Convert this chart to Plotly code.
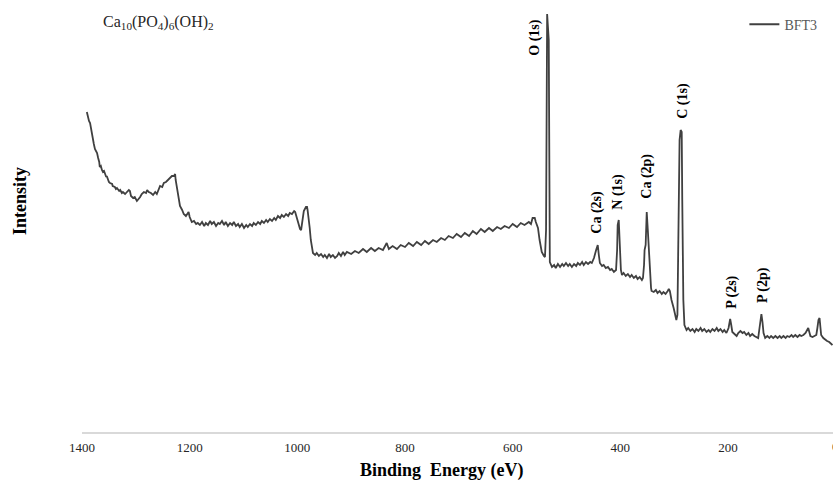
import plotly.graph_objects as go

# Binding energy (eV) and intensity (a.u.)
energy_ev = [
    1391, 1389, 1387, 1385, 1383, 1381, 1380, 1378, 1376, 1374, 1372, 1370, 1368, 1367, 1365, 1363, 1361, 1359,
    1357, 1355, 1354, 1352, 1350, 1348, 1344, 1343, 1339, 1337, 1335, 1331, 1329, 1326, 1324, 1320, 1316, 1313,
    1311, 1309, 1305, 1302, 1298, 1296, 1292, 1289, 1285, 1281, 1279, 1276, 1272, 1268, 1264, 1261, 1257, 1255,
    1251, 1248, 1244, 1240, 1237, 1233, 1229, 1227, 1226, 1224, 1222, 1220, 1218, 1214, 1211, 1207, 1203, 1202,
    1200, 1196, 1192, 1188, 1185, 1181, 1177, 1173, 1170, 1166, 1162, 1159, 1155, 1151, 1147, 1144, 1140, 1136,
    1133, 1129, 1125, 1121, 1118, 1114, 1110, 1107, 1103, 1099, 1095, 1092, 1088, 1084, 1081, 1077, 1073, 1069,
    1066, 1062, 1058, 1055, 1051, 1047, 1043, 1040, 1036, 1032, 1029, 1025, 1021, 1017, 1014, 1010, 1006, 1004,
    1003, 1001, 999, 995, 993, 992, 990, 988, 984, 982, 981, 979, 977, 975, 973, 971, 967, 964, 960, 956, 952,
    949, 945, 941, 938, 934, 930, 926, 923, 919, 915, 912, 908, 900, 893, 886, 878, 871, 863, 856, 849, 841, 834,
    830, 823, 815, 808, 800, 793, 785, 778, 770, 763, 756, 748, 741, 733, 726, 719, 711, 704, 696, 689, 681, 674,
    667, 659, 652, 644, 637, 629, 622, 615, 607, 600, 592, 585, 578, 570, 566, 563, 559, 557, 553, 550, 546, 542,
    540, 538, 537, 536, 533, 531, 527, 523, 520, 516, 512, 508, 505, 501, 497, 494, 490, 486, 482, 479, 475, 471,
    468, 464, 460, 456, 453, 449, 445, 442, 440, 438, 434, 431, 427, 423, 419, 416, 412, 408, 406, 405, 403, 401,
    399, 397, 394, 390, 386, 382, 379, 375, 371, 368, 364, 360, 358, 356, 355, 353, 351, 349, 347, 345, 343, 342,
    338, 334, 331, 327, 323, 320, 316, 312, 310, 308, 307, 305, 301, 297, 296, 294, 292, 290, 288, 286, 285, 283,
    281, 277, 274, 270, 266, 262, 259, 255, 251, 248, 244, 240, 236, 233, 229, 225, 221, 218, 214, 210, 207, 203,
    199, 197, 196, 194, 192, 188, 184, 181, 177, 173, 170, 166, 162, 159, 155, 151, 147, 144, 142, 140, 138, 136,
    134, 131, 127, 123, 120, 116, 112, 108, 104, 101, 97, 93, 90, 86, 82, 79, 75, 71, 67, 64, 60, 56, 53, 51, 49,
    47, 43, 40, 36, 34, 32, 30, 29, 27, 23, 19, 16, 12, 8, 6,
]
intensity = [
    320, 315, 311, 309, 302, 296, 292, 288, 283, 281, 279, 274, 270, 265, 266, 262, 260, 261,
    257, 255, 256, 252, 250, 249, 248, 246, 245, 243, 244, 241, 242, 239, 240, 238, 240, 242,
    241, 236, 234, 235, 231, 232, 235, 238, 240, 239, 242, 240, 239, 237, 240, 238, 243, 246,
    245, 249, 250, 252, 254, 256, 256, 258, 252, 246, 240, 232, 226, 222, 218, 216, 219, 220,
    215, 210, 211, 208, 209, 207, 210, 206, 209, 207, 211, 208, 210, 206, 209, 208, 211, 207,
    210, 206, 209, 207, 210, 206, 208, 205, 208, 204, 207, 205, 208, 206, 209, 207, 210, 208,
    211, 209, 212, 210, 213, 211, 214, 212, 216, 214, 217, 215, 218, 216, 219, 218, 221, 220,
    218, 214, 210, 203, 202, 206, 214, 221, 225, 225, 222, 215, 204, 192, 183, 179, 177, 179, 176, 178, 175,
    177, 174, 178, 175, 177, 174, 176, 179, 176, 180, 177, 180, 178, 181, 179, 183, 180, 184, 181, 184, 182, 189,
    183, 186, 183, 187, 185, 189, 186, 190, 187, 191, 188, 192, 190, 194, 192, 196, 194, 198, 195, 199, 196, 201,
    198, 203, 200, 204, 201, 205, 203, 206, 204, 208, 205, 209, 207, 210, 208, 214, 214, 210, 204, 192, 180, 176,
    175, 202, 392, 418, 392, 170, 165, 167, 164, 168, 165, 168, 166, 169, 166, 168, 165, 168, 166, 169, 167, 170,
    167, 170, 168, 170, 169, 174, 182, 187, 177, 169, 166, 167, 164, 165, 162, 163, 160, 162, 182, 207, 212, 192,
    162, 157, 159, 156, 158, 155, 157, 154, 156, 153, 155, 152, 154, 167, 182, 187, 220, 202, 177, 157, 144, 141,
    140, 142, 139, 141, 138, 140, 138, 141, 143, 141, 137, 132, 124, 116, 112, 117, 232, 292, 302, 300, 232, 132,
    107, 102, 104, 101, 103, 100, 103, 101, 104, 101, 103, 100, 102, 100, 103, 101, 104, 101, 103, 100, 102, 99,
    104, 110, 113, 107, 100, 98, 96, 99, 101, 99, 100, 97, 99, 96, 98, 96, 95, 94, 102, 114, 118, 110,
    99, 94, 96, 94, 96, 94, 96, 94, 96, 94, 96, 94, 96, 95, 97, 95, 97, 95, 97, 96, 97, 99, 102, 104, 100,
    96, 95, 96, 97, 104, 112, 114, 107, 97, 94, 92, 91, 90, 88, 87,
]

series_name = "BFT3"
x_tick_values = [1400, 1200, 1000, 800, 600, 400, 200]
x_tick_labels = ["1400", "1200", "1000", "800", "600", "400", "200"]

peak_names = ["O (1s)", "Ca (2s)", "N (1s)", "Ca (2p)", "C (1s)", "P (2s)", "P (2p)"]
peak_ev = [559, 444, 405, 351, 284, 193, 135]
peak_label_y = [395, 220, 240, 256, 331, 140, 147]

SERIF = "Liberation Serif, Times New Roman, serif"

fig = go.Figure()
fig.add_trace(go.Scatter(
    x=energy_ev, y=intensity, mode="lines", name=series_name,
    line=dict(color="#404040", width=1.8),
))

annotations = []
for name, ev, yy in zip(peak_names, peak_ev, peak_label_y):
    annotations.append(dict(
        x=ev, y=yy, xref="x", yref="y", text="<b>" + name + "</b>", showarrow=False,
        textangle=-90, xanchor="center", yanchor="middle",
        font=dict(family=SERIF, size=14, color="#000000"),
    ))

annotations.append(dict(
    x=0.1025, y=0.976, xref="paper", yref="paper", showarrow=False,
    xanchor="center", yanchor="middle",
    text="Ca<sub>10</sub>(PO<sub>4</sub>)<sub>6</sub>(OH)<sub>2</sub>",
    font=dict(family=SERIF, size=16, color="#262626"),
))
annotations.append(dict(
    x=-0.0825, y=0.55, xref="paper", yref="paper", showarrow=False,
    xanchor="center", yanchor="middle",
    text="<b>Intensity</b>", textangle=-90,
    font=dict(family=SERIF, size=18, color="#000000"),
))
annotations.append(dict(
    x=1.0027, y=-0.0357, xref="paper", yref="paper", showarrow=False,
    xanchor="center", yanchor="middle",
    text="0", font=dict(family=SERIF, size=13, color="#262626"),
))
annotations.append(dict(
    x=0.479, y=-0.0905, xref="paper", yref="paper", showarrow=False,
    xanchor="center", yanchor="middle",
    text="<b>Binding  Energy (eV)</b>",
    font=dict(family=SERIF, size=18, color="#000000"),
))

fig.update_layout(
    width=833, height=482,
    margin=dict(l=82, r=0, t=12, b=50),
    paper_bgcolor="white", plot_bgcolor="white",
    showlegend=True,
    legend=dict(x=0.882, y=1.008, xanchor="left", yanchor="top",
                font=dict(family=SERIF, size=14, color="#595959"),
                bgcolor="rgba(0,0,0,0)"),
    annotations=annotations,
    xaxis=dict(
        range=[1400, 5], tickmode="array", tickvals=x_tick_values, ticktext=x_tick_labels,
        showgrid=False, zeroline=False, showline=True, linecolor="#d9d9d9", linewidth=1.5,
        ticks="", ticklabelstandoff=3,
        tickfont=dict(family=SERIF, size=13, color="#262626"),
    ),
    yaxis=dict(
        range=[0, 420], showgrid=False, zeroline=False, showline=False,
        showticklabels=False, ticks="",
    ),
)

fig.write_html("out.html", config={"displayModeBar": False},
               post_script="document.body.style.margin='0';")
